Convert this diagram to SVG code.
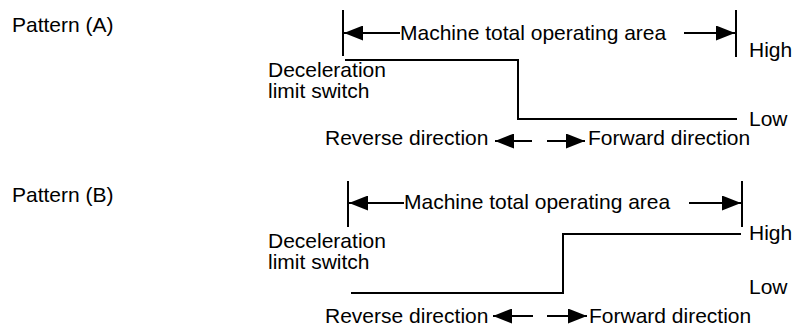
<svg xmlns="http://www.w3.org/2000/svg" width="803" height="328" viewBox="0 0 803 328">
<style>
text{font-family:"Liberation Sans",Arial,sans-serif;font-size:21px;fill:#000}
.ln{stroke:#000;stroke-width:2;fill:none}
.ar{stroke:#000;stroke-width:2;fill:none}
.bar{stroke:#000;stroke-width:2;fill:none}
</style>
<defs>
<marker id="ah" viewBox="0 0 19 15" refX="19" refY="7.5" markerWidth="19" markerHeight="15" markerUnits="userSpaceOnUse" orient="auto">
<path d="M0,0 L19,7.5 L0,15 Z" fill="#000"/>
</marker>
</defs>
<rect width="803" height="328" fill="#fff"/>

<g id="patternA">
<text x="12" y="32">Pattern (A)</text>
<text x="400" y="40">Machine total operating area</text>
<text x="268" y="77">Deceleration</text>
<text x="268" y="98">limit switch</text>
<text x="749" y="57">High</text>
<text x="749" y="126">Low</text>
<text x="325" y="145">Reverse direction</text>
<text x="588" y="145">Forward direction</text>
</g>

<g id="patternB">
<text x="12" y="202">Pattern (B)</text>
<text x="404" y="209">Machine total operating area</text>
<text x="268" y="248">Deceleration</text>
<text x="268" y="269">limit switch</text>
<text x="749" y="240">High</text>
<text x="749" y="294">Low</text>
<text x="325" y="323">Reverse direction</text>
<text x="589" y="323">Forward direction</text>
</g>

<g id="connectors">
<line class="bar" x1="343" y1="10" x2="343" y2="56"/>
<line class="bar" x1="736" y1="10" x2="736" y2="57"/>
<line class="ar" x1="400" y1="33" x2="344" y2="33" marker-end="url(#ah)"/>
<line class="ar" x1="684" y1="33" x2="735" y2="33" marker-end="url(#ah)"/>
<polyline class="ln" points="345,60 518,60 518,119 737,119"/>
<line class="ar" x1="532" y1="141" x2="495" y2="141" marker-end="url(#ah)"/>
<line class="ar" x1="547" y1="141" x2="585" y2="141" marker-end="url(#ah)"/>
<line class="bar" x1="348" y1="181" x2="348" y2="227"/>
<line class="bar" x1="742" y1="181" x2="742" y2="227"/>
<line class="ar" x1="404" y1="203" x2="349" y2="203" marker-end="url(#ah)"/>
<line class="ar" x1="689" y1="203" x2="741" y2="203" marker-end="url(#ah)"/>
<polyline class="ln" points="351,293 563,293 563,234 741,234"/>
<line class="ar" x1="533" y1="316" x2="493" y2="316" marker-end="url(#ah)"/>
<line class="ar" x1="547" y1="316" x2="587" y2="316" marker-end="url(#ah)"/>
</g>
</svg>
